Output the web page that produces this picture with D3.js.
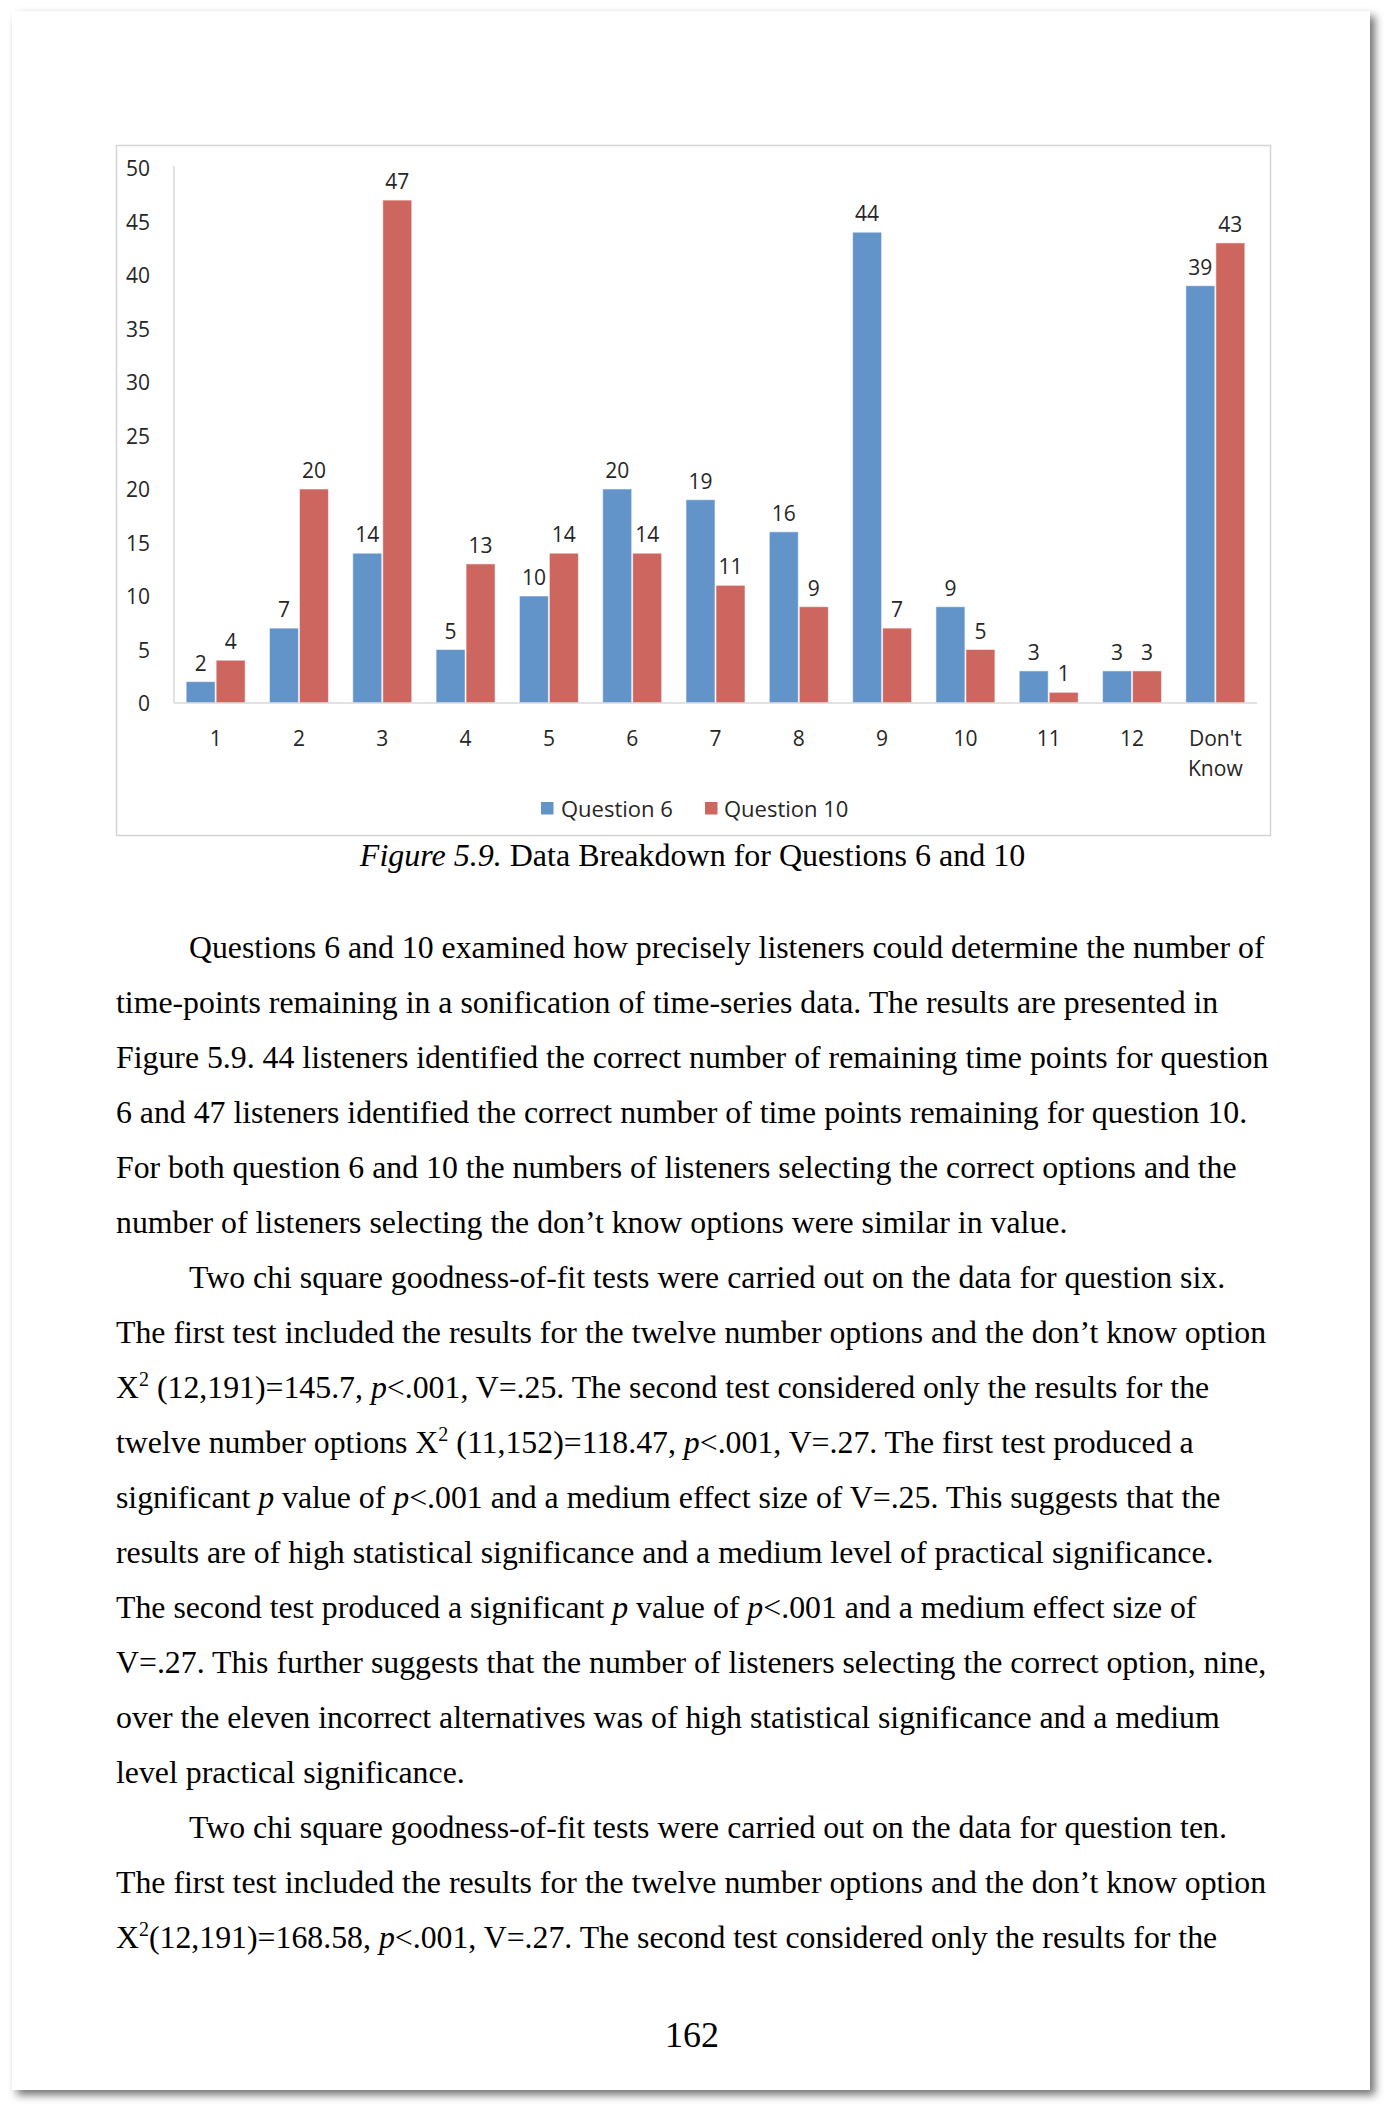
<!DOCTYPE html>
<html>
<head>
<meta charset="utf-8">
<script src="https://cdn.jsdelivr.net/npm/d3@7"></script>
<style>
  html, body { margin: 0; padding: 0; background: #ffffff; }
  svg { display: block; }
</style>
</head>
<body>
<div id="page"></div>
<script>
// ---------- DATA ----------
const categories = ["1","2","3","4","5","6","7","8","9","10","11","12","Don't Know"];
const seriesNames = ["Question 6", "Question 10"];
const question6  = [2, 7, 14, 5, 10, 20, 19, 16, 44, 9, 3, 3, 39];
const question10 = [4, 20, 47, 13, 14, 14, 11, 9, 7, 5, 1, 3, 43];
const yTicks = [0, 5, 10, 15, 20, 25, 30, 35, 40, 45, 50];
const captionItalic = "Figure 5.9.";
const captionRest = " Data Breakdown for Questions 6 and 10";
const pageNumber = "162";
// body text: _x_ = italic, ^x^ = superscript ; leading ">" = indented line
const bodyLines = [
  ">Questions 6 and 10 examined how precisely listeners could determine the number of",
  "time-points remaining in a sonification of time-series data. The results are presented in",
  "Figure 5.9. 44 listeners identified the correct number of remaining time points for question",
  "6 and 47 listeners identified the correct number of time points remaining for question 10.",
  "For both question 6 and 10 the numbers of listeners selecting the correct options and the",
  "number of listeners selecting the don’t know options were similar in value.",
  ">Two chi square goodness-of-fit tests were carried out on the data for question six.",
  "The first test included the results for the twelve number options and the don’t know option",
  "X^2^ (12,191)=145.7, _p_<.001, V=.25. The second test considered only the results for the",
  "twelve number options X^2^ (11,152)=118.47, _p_<.001, V=.27. The first test produced a",
  "significant _p_ value of _p_<.001 and a medium effect size of V=.25. This suggests that the",
  "results are of high statistical significance and a medium level of practical significance.",
  "The second test produced a significant _p_ value of _p_<.001 and a medium effect size of",
  "V=.27. This further suggests that the number of listeners selecting the correct option, nine,",
  "over the eleven incorrect alternatives was of high statistical significance and a medium",
  "level practical significance.",
  ">Two chi square goodness-of-fit tests were carried out on the data for question ten.",
  "The first test included the results for the twelve number options and the don’t know option",
  "X^2^(12,191)=168.58, _p_<.001, V=.27. The second test considered only the results for the"
];

// ---------- LAYOUT ----------
const W = 1389, H = 2110;
const colors = ["#6394C9", "#CE6660"];
const chartFont = "'Open Sans', 'DejaVu Sans', sans-serif";
const serif = "'Liberation Serif', 'Times New Roman', serif";

const svg = d3.select("#page").append("svg").attr("width", W).attr("height", H);

const defs = svg.append("defs");
const f = defs.append("filter").attr("id", "shadow")
  .attr("x", "-5%").attr("y", "-5%").attr("width", "110%").attr("height", "110%");
f.append("feDropShadow").attr("dx", 5).attr("dy", 5).attr("stdDeviation", 4)
  .attr("flood-color", "#000").attr("flood-opacity", 0.55);

// page
svg.append("rect").attr("x", 12).attr("y", 11).attr("width", 1358).attr("height", 2079)
  .attr("fill", "#fff").attr("filter", "url(#shadow)");

// chart frame
svg.append("rect").attr("x", 116.5).attr("y", 145.5).attr("width", 1154).attr("height", 690)
  .attr("fill", "#fff").attr("stroke", "#d4d4d4").attr("stroke-width", 1.5);

const plot = { left: 174, right: 1257, top: 168, bottom: 703 };

const x0 = d3.scaleBand().domain(categories).range([plot.left, plot.right])
  .paddingInner(0.28).paddingOuter(0.14);
const x1 = d3.scaleBand().domain(seriesNames).range([0, x0.bandwidth()]).padding(0);
const y = d3.scaleLinear().domain([0, 50]).range([plot.bottom, plot.top]);

const g = svg.append("g");

// y axis labels
const yAxis = d3.axisLeft(y).tickValues(yTicks).tickSize(0).tickPadding(0);
const ya = g.append("g").attr("transform", `translate(150,0)`).call(yAxis);
ya.select(".domain").remove();
ya.selectAll("text").attr("font-family", chartFont).attr("font-size", 21)
  .attr("fill", "#262626").attr("dy", "0.36em");

// axis lines
g.append("line").attr("x1", plot.left).attr("x2", plot.left)
  .attr("y1", y(50) - 2).attr("y2", plot.bottom)
  .attr("stroke", "#d9d9d9").attr("stroke-width", 1.5);

// bars
const rows = categories.map((c, i) => ({ cat: c, vals: [question6[i], question10[i]] }));
const grp = g.selectAll("g.cat").data(rows).join("g").attr("class", "cat")
  .attr("transform", d => `translate(${x0(d.cat)},0)`);
grp.selectAll("rect").data(d => d.vals.map((v, k) => ({ v, k })))
  .join("rect")
  .attr("x", d => x1(seriesNames[d.k]) + 0.5)
  .attr("width", x1.bandwidth() - 1)
  .attr("y", d => y(d.v))
  .attr("height", d => y(0) - y(d.v))
  .attr("fill", d => colors[d.k])
  .attr("stroke", "rgba(255,255,255,0.55)").attr("stroke-width", 1);
grp.selectAll("text.val").data(d => d.vals.map((v, k) => ({ v, k })))
  .join("text").attr("class", "val")
  .attr("x", d => x1(seriesNames[d.k]) + x1.bandwidth() / 2)
  .attr("y", d => y(d.v) - 11)
  .attr("text-anchor", "middle")
  .attr("font-family", chartFont).attr("font-size", 21).attr("fill", "#262626")
  .text(d => d.v);

g.append("line").attr("x1", plot.left).attr("x2", plot.right)
  .attr("y1", plot.bottom).attr("y2", plot.bottom)
  .attr("stroke", "#d9d9d9").attr("stroke-width", 1.5);

// x labels
const xl = g.append("g");
categories.forEach(c => {
  const parts = c.split(" ");
  const cx = x0(c) + x0.bandwidth() / 2;
  parts.forEach((p, j) => {
    xl.append("text").attr("x", cx).attr("y", 746 + j * 30)
      .attr("text-anchor", "middle").attr("font-family", chartFont)
      .attr("font-size", 21).attr("fill", "#262626").text(p);
  });
});

// legend
const legendPos = [{ sx: 541, tx: 561 }, { sx: 705, tx: 724 }];
seriesNames.forEach((s, k) => {
  g.append("rect").attr("x", legendPos[k].sx).attr("y", 802).attr("width", 12.5).attr("height", 12.5)
    .attr("fill", colors[k]);
  g.append("text").attr("x", legendPos[k].tx).attr("y", 817)
    .attr("font-family", chartFont).attr("font-size", 22).attr("fill", "#262626").text(s);
});

// caption
const cap = svg.append("text").attr("x", 692.5).attr("y", 866).attr("text-anchor", "middle")
  .attr("font-family", serif).attr("font-size", 32).attr("fill", "#000");
cap.append("tspan").attr("font-style", "italic").text(captionItalic);
cap.append("tspan").text(captionRest);

// body text
const bodySize = 31.8;
bodyLines.forEach((line, i) => {
  let txt = line, indent = false;
  if (txt.startsWith(">")) { indent = true; txt = txt.slice(1); }
  const t = svg.append("text").attr("x", indent ? 189 : 116).attr("y", 958 + i * 55)
    .attr("font-family", serif).attr("font-size", bodySize).attr("fill", "#000")
    .style("white-space", "pre");
  const tokens = txt.split(/(_[^_]+_|\^[^^]+\^)/).filter(s => s.length);
  let pendingDy = 0;
  tokens.forEach(tok => {
    let ts;
    if (tok.startsWith("_")) {
      ts = t.append("tspan").attr("font-style", "italic").text(tok.slice(1, -1));
    } else if (tok.startsWith("^")) {
      ts = t.append("tspan").attr("font-size", 20).attr("dy", -12).text(tok.slice(1, -1));
      pendingDy = 12;
      return;
    } else {
      ts = t.append("tspan").text(tok);
    }
    if (pendingDy) { ts.attr("dy", pendingDy); pendingDy = 0; }
  });
});

// page number
svg.append("text").attr("x", 692).attr("y", 2047).attr("text-anchor", "middle")
  .attr("font-family", serif).attr("font-size", 36).attr("fill", "#000").text(pageNumber);
</script>
</body>
</html>
